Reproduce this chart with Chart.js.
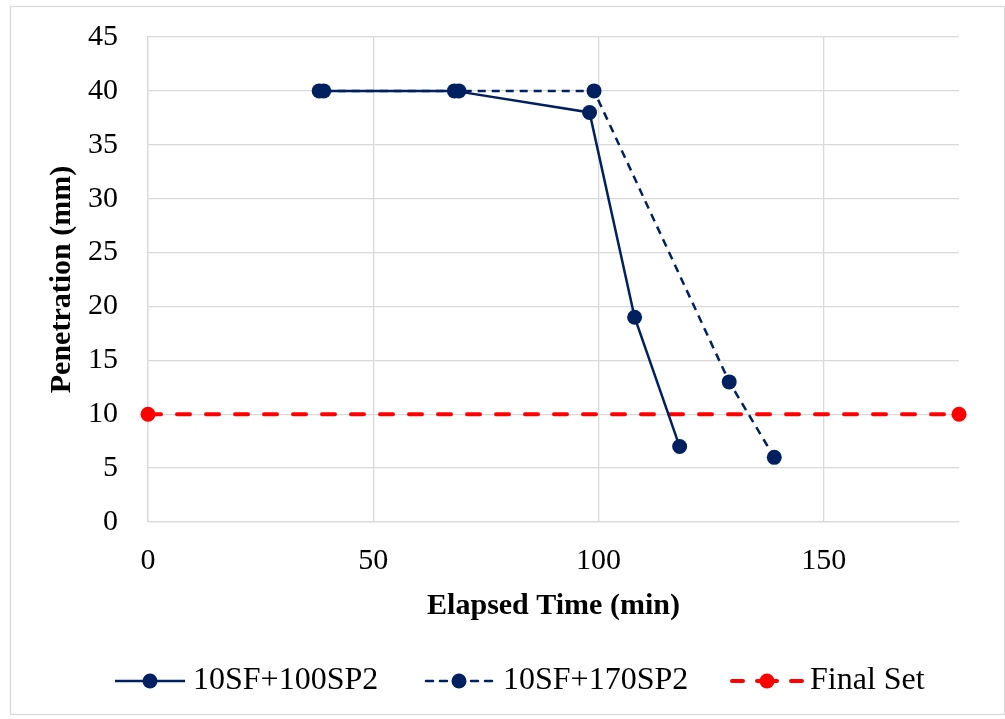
<!DOCTYPE html>
<html>
<head>
<meta charset="utf-8">
<script src="https://cdn.jsdelivr.net/npm/chart.js@4.4.1/dist/chart.umd.min.js"></script>
<style>
  html, body { margin: 0; padding: 0; background: #ffffff; }
  #wrap { position: relative; width: 1005px; height: 719px; }
</style>
</head>
<body>
<div id="wrap"><canvas id="c" width="1005" height="719"></canvas></div>
<script>
// ---- Data ----
const seriesNames = ['10SF+100SP2', '10SF+170SP2', 'Final Set'];
const s1Time = [38, 68, 98, 108, 118];
const s1Pen  = [40, 40, 38, 19, 7];
const s2Time = [39, 69, 99, 129, 139];
const s2Pen  = [40, 40, 40, 13, 6];
const finalTime = [0, 180];
const finalPen  = [10, 10];
const xTicks = [0, 50, 100, 150];
const yTicks = [0, 5, 10, 15, 20, 25, 30, 35, 40, 45];

const NAVY = '#002060';
const RED = '#ff0000';
const GRID = '#d9d9d9';
const FONT = '"Liberation Serif", "Times New Roman", serif';

function pts(xs, ys) { return xs.map((x, i) => ({ x: x, y: ys[i] })); }

// Legend layout (icon centre x, text start x), drawn below the axes
const legendLayout = [
  { cx: 150, half: 35, tx: 193, dash: [], lw: 2.5 },
  { cx: 459, half: 33, tx: 503, dash: [7, 7], lw: 2.5 },
  { cx: 767, half: 35, tx: 810, dash: [11, 14], lw: 4 }
];
const LEGEND_Y = 681;

const borderPlugin = {
  id: 'outerBorder',
  beforeDraw(chart) {
    const ctx = chart.ctx;
    ctx.save();
    ctx.fillStyle = '#ffffff';
    ctx.fillRect(0, 0, chart.width, chart.height);
    ctx.strokeStyle = GRID;
    ctx.lineWidth = 1.3;
    ctx.strokeRect(10.5, 6.5, 994, 708);
    ctx.restore();
  }
};

const legendPlugin = {
  id: 'lineLegend',
  afterDraw(chart) {
    const ctx = chart.ctx;
    ctx.save();
    chart.data.datasets.forEach((d, i) => {
      const L = legendLayout[i];
      ctx.strokeStyle = d.borderColor;
      ctx.lineWidth = L.lw;
      ctx.setLineDash(L.dash);
      ctx.lineCap = L.dash.length ? 'round' : 'butt';
      ctx.beginPath();
      if (L.dash.length) {
        ctx.moveTo(L.cx - L.half, LEGEND_Y); ctx.lineTo(L.cx, LEGEND_Y);
        ctx.stroke();
        ctx.beginPath();
        ctx.moveTo(L.cx + L.half, LEGEND_Y); ctx.lineTo(L.cx, LEGEND_Y);
      } else {
        ctx.moveTo(L.cx - L.half, LEGEND_Y); ctx.lineTo(L.cx + L.half, LEGEND_Y);
      }
      ctx.stroke();
      ctx.setLineDash([]);
      ctx.fillStyle = d.backgroundColor;
      ctx.beginPath(); ctx.arc(L.cx, LEGEND_Y, 7.5, 0, Math.PI * 2); ctx.fill();
      ctx.fillStyle = '#000';
      ctx.font = '32px ' + FONT;
      ctx.textBaseline = 'middle';
      ctx.textAlign = 'left';
      ctx.fillText(d.label, L.tx, LEGEND_Y);
    });
    ctx.restore();
  }
};

new Chart(document.getElementById('c'), {
  type: 'scatter',
  data: {
    datasets: [
      {
        label: seriesNames[0], data: pts(s1Time, s1Pen), showLine: true, clip: false,
        borderColor: NAVY, backgroundColor: NAVY, borderWidth: 2.5,
        pointRadius: 7.5, pointHoverRadius: 7.5, pointBorderWidth: 0
      },
      {
        label: seriesNames[1], data: pts(s2Time, s2Pen), showLine: true, clip: false,
        borderColor: NAVY, backgroundColor: NAVY, borderWidth: 2.5, borderDash: [8, 6],
        pointRadius: 7.5, pointHoverRadius: 7.5, pointBorderWidth: 0
      },
      {
        label: seriesNames[2], data: pts(finalTime, finalPen), showLine: true, clip: false,
        borderColor: RED, backgroundColor: RED, borderWidth: 4, borderDash: [13, 16],
        borderCapStyle: 'round',
        pointRadius: 7.5, pointHoverRadius: 7.5, pointBorderWidth: 0
      }
    ]
  },
  options: {
    responsive: false,
    animation: false,
    events: [],
    layout: { padding: { left: 10, right: 46, top: 37, bottom: 80 } },
    scales: {
      x: {
        type: 'linear', min: 0, max: 180,
        afterBuildTicks(s) { s.ticks = xTicks.map(v => ({ value: v })); },
        afterFit(s) { s.height = 117; s.paddingLeft = 0; s.paddingRight = 0; },
        ticks: { font: { family: FONT, size: 30 }, color: '#000', padding: 21, maxRotation: 0 },
        grid: { color: GRID, lineWidth: 1.3, drawTicks: false },
        border: { color: GRID, width: 1.3 },
        title: { display: true, text: 'Elapsed Time (min)', color: '#000',
                 font: { family: FONT, size: 30, weight: 'bold' }, padding: { top: 0, bottom: 15 } }
      },
      y: {
        type: 'linear', min: 0, max: 45,
        afterBuildTicks(s) { s.ticks = yTicks.map(v => ({ value: v })); },
        afterFit(s) { s.width = 138; s.paddingTop = 0; s.paddingBottom = 0; },
        ticks: { font: { family: FONT, size: 30 }, color: '#000', padding: 30 },
        grid: { color: GRID, lineWidth: 1.3, drawTicks: false },
        border: { color: GRID, width: 1.3 },
        title: { display: true, text: 'Penetration (mm)', color: '#000',
                 font: { family: FONT, size: 30, weight: 'bold' }, padding: { top: 34, bottom: 0 } }
      }
    },
    plugins: {
      tooltip: { enabled: false },
      legend: { display: false }
    }
  },
  plugins: [borderPlugin, legendPlugin]
});
</script>
</body>
</html>
